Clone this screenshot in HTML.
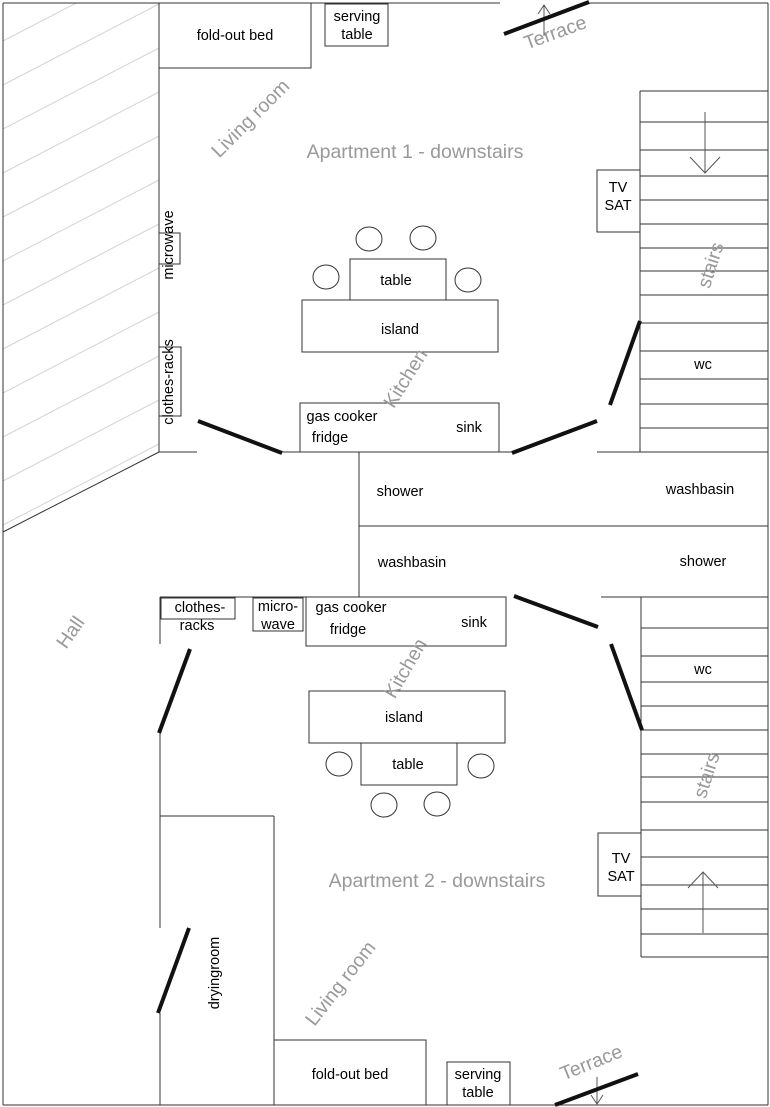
<!DOCTYPE html>
<html><head><meta charset="utf-8"><style>
html,body{margin:0;padding:0;background:#fff}
svg{display:block}
text{font-family:"Liberation Sans",sans-serif}
.b{font-size:14.5px;fill:#000;text-anchor:middle}
.g{font-size:19.5px;fill:#999;text-anchor:middle}
</style></head><body>
<svg width="770" height="1107" viewBox="0 0 770 1107" xmlns="http://www.w3.org/2000/svg">
<defs><clipPath id="hc"><polygon points="3,3 159,3 159,452 3,532"/></clipPath></defs>
<g clip-path="url(#hc)" stroke="#d4d4d4" stroke-width="1">
<line x1="3" y1="-3" x2="159" y2="-84"/>
<line x1="3" y1="41" x2="159" y2="-40"/>
<line x1="3" y1="85" x2="159" y2="4"/>
<line x1="3" y1="129" x2="159" y2="48"/>
<line x1="3" y1="173" x2="159" y2="92"/>
<line x1="3" y1="217" x2="159" y2="136"/>
<line x1="3" y1="261" x2="159" y2="180"/>
<line x1="3" y1="305" x2="159" y2="224"/>
<line x1="3" y1="349" x2="159" y2="268"/>
<line x1="3" y1="393" x2="159" y2="312"/>
<line x1="3" y1="437" x2="159" y2="356"/>
<line x1="3" y1="481" x2="159" y2="400"/>
<line x1="3" y1="525" x2="159" y2="444"/>
</g>
<g stroke="#333" stroke-width="1" fill="none">
<line x1="3" y1="3" x2="3" y2="1105"/>
<line x1="3" y1="3" x2="500" y2="3"/>
<line x1="589" y1="3" x2="768" y2="3"/>
<line x1="768" y1="3" x2="768" y2="1105"/>
<line x1="3" y1="1105" x2="768" y2="1105"/>
<line x1="3" y1="532" x2="159" y2="452"/>
<line x1="159" y1="3" x2="159" y2="452"/>
<line x1="159" y1="452" x2="197" y2="452"/>
<line x1="282" y1="452" x2="512" y2="452"/>
<line x1="597" y1="452" x2="768" y2="452"/>
<rect x="159" y="3" width="152" height="65"/>
<rect x="325" y="4" width="63" height="42"/>
<rect x="159" y="233" width="21" height="31"/>
<rect x="159" y="347" width="22" height="69"/>
<rect x="300" y="403" width="199" height="49"/>
<rect x="350" y="259" width="96" height="41"/>
<rect x="302" y="300" width="196" height="52"/>
<ellipse cx="369" cy="239" rx="13" ry="12"/>
<ellipse cx="423" cy="238" rx="13" ry="12"/>
<ellipse cx="326" cy="277" rx="13" ry="12"/>
<ellipse cx="468" cy="280" rx="13" ry="12"/>
<rect x="597" y="170" width="43" height="62"/>
<line x1="640" y1="91" x2="640" y2="452"/>
<line x1="640" y1="91" x2="768" y2="91"/>
<line x1="640" y1="122" x2="768" y2="122"/>
<line x1="640" y1="150" x2="768" y2="150"/>
<line x1="640" y1="176" x2="768" y2="176"/>
<line x1="640" y1="200" x2="768" y2="200"/>
<line x1="640" y1="224" x2="768" y2="224"/>
<line x1="640" y1="248" x2="768" y2="248"/>
<line x1="640" y1="271" x2="768" y2="271"/>
<line x1="640" y1="295" x2="768" y2="295"/>
<line x1="640" y1="323" x2="768" y2="323"/>
<line x1="640" y1="351" x2="768" y2="351"/>
<line x1="640" y1="379" x2="768" y2="379"/>
<line x1="640" y1="404" x2="768" y2="404"/>
<line x1="640" y1="428" x2="768" y2="428"/>
<line x1="359" y1="452" x2="359" y2="597"/>
<line x1="359" y1="526" x2="768" y2="526"/>
<line x1="160" y1="597" x2="506" y2="597"/>
<line x1="601" y1="597" x2="768" y2="597"/>
<rect x="306" y="597" width="200" height="49"/>
<rect x="161" y="598" width="74" height="21"/>
<rect x="253" y="598" width="50" height="33"/>
<line x1="160" y1="597" x2="160" y2="644"/>
<line x1="160" y1="733" x2="160" y2="928"/>
<line x1="160" y1="1013" x2="160" y2="1105"/>
<line x1="160" y1="816" x2="274" y2="816"/>
<line x1="274" y1="816" x2="274" y2="1105"/>
<rect x="274" y="1040" width="152" height="65"/>
<rect x="447" y="1062" width="63" height="43"/>
<rect x="309" y="691" width="196" height="52"/>
<rect x="361" y="743" width="96" height="42"/>
<ellipse cx="339" cy="764" rx="13" ry="12"/>
<ellipse cx="481" cy="766" rx="13" ry="12"/>
<ellipse cx="384" cy="805" rx="13" ry="12"/>
<ellipse cx="437" cy="804" rx="13" ry="12"/>
<rect x="598" y="833" width="43" height="63"/>
<line x1="641" y1="597" x2="641" y2="957"/>
<line x1="641" y1="628" x2="768" y2="628"/>
<line x1="641" y1="656" x2="768" y2="656"/>
<line x1="641" y1="682" x2="768" y2="682"/>
<line x1="641" y1="706" x2="768" y2="706"/>
<line x1="641" y1="730" x2="768" y2="730"/>
<line x1="641" y1="754" x2="768" y2="754"/>
<line x1="641" y1="777" x2="768" y2="777"/>
<line x1="641" y1="802" x2="768" y2="802"/>
<line x1="641" y1="830" x2="768" y2="830"/>
<line x1="641" y1="857" x2="768" y2="857"/>
<line x1="641" y1="885" x2="768" y2="885"/>
<line x1="641" y1="909" x2="768" y2="909"/>
<line x1="641" y1="934" x2="768" y2="934"/>
<line x1="641" y1="957" x2="768" y2="957"/>
</g>
<g stroke="#555" stroke-width="1" fill="none">
<line x1="544" y1="36" x2="544" y2="5"/><polyline points="538,14 544,5 550,14"/>
<line x1="705" y1="112" x2="705" y2="173"/><polyline points="690,157 705,173 720,157"/>
<line x1="703" y1="933" x2="703" y2="872"/><polyline points="688,888 703,872 718,888"/>
<line x1="597" y1="1077" x2="597" y2="1104"/><polyline points="591,1095 597,1104 603,1095"/>
</g>
<g stroke="#111" stroke-width="4" stroke-linecap="butt">
<line x1="504" y1="34" x2="589" y2="2"/>
<line x1="198" y1="421" x2="282" y2="453"/>
<line x1="512" y1="453" x2="597" y2="421"/>
<line x1="640" y1="321" x2="610" y2="405"/>
<line x1="514" y1="596" x2="598" y2="627"/>
<line x1="611" y1="644" x2="642" y2="730"/>
<line x1="190" y1="649" x2="159" y2="733"/>
<line x1="189" y1="928" x2="158" y2="1013"/>
<line x1="555" y1="1105" x2="638" y2="1074"/>
</g>
<text class="b" x="235" y="40">fold-out bed</text>
<text class="b" x="357" y="21">serving</text>
<text class="b" x="357" y="39">table</text>
<text class="b" x="396" y="285">table</text>
<text class="b" x="400" y="334">island</text>
<text class="b" x="618" y="192">TV</text>
<text class="b" x="618" y="210">SAT</text>
<text class="b" x="703" y="369">wc</text>
<text class="b" x="342" y="421">gas cooker</text>
<text class="b" x="330" y="442">fridge</text>
<text class="b" x="469" y="432">sink</text>
<text class="b" x="168" y="250" transform="rotate(-90 168 245)">microwave</text>
<text class="b" x="168" y="387" transform="rotate(-90 168 382)">clothes-racks</text>
<text class="b" x="400" y="496">shower</text>
<text class="b" x="700" y="494">washbasin</text>
<text class="b" x="412" y="567">washbasin</text>
<text class="b" x="703" y="566">shower</text>
<text class="b" x="200" y="612">clothes-</text>
<text class="b" x="197" y="630">racks</text>
<text class="b" x="278" y="611">micro-</text>
<text class="b" x="278" y="629">wave</text>
<text class="b" x="351" y="612">gas cooker</text>
<text class="b" x="348" y="634">fridge</text>
<text class="b" x="474" y="627">sink</text>
<text class="b" x="404" y="722">island</text>
<text class="b" x="408" y="769">table</text>
<text class="b" x="703" y="674">wc</text>
<text class="b" x="621" y="863">TV</text>
<text class="b" x="621" y="881">SAT</text>
<text class="b" x="350" y="1079">fold-out bed</text>
<text class="b" x="478" y="1079">serving</text>
<text class="b" x="478" y="1097">table</text>
<text class="b" x="214" y="978" transform="rotate(-90 214 973)">dryingroom</text>
<text class="g" x="415" y="158">Apartment 1 - downstairs</text>
<text class="g" x="437" y="887">Apartment 2 - downstairs</text>
<text class="g" x="250" y="125" transform="rotate(-45 250 118)">Living room</text>
<text class="g" x="405" y="385" transform="rotate(-58 405 378)">Kitchen</text>
<text class="g" x="405" y="675" transform="rotate(-60 405 668)">Kitchen</text>
<text class="g" x="710" y="272" transform="rotate(-72 710 265)">stairs</text>
<text class="g" x="706" y="782" transform="rotate(-72 706 775)">stairs</text>
<text class="g" x="555" y="39" transform="rotate(-20 555 32)">Terrace</text>
<text class="g" x="591" y="1069" transform="rotate(-22 591 1062)">Terrace</text>
<text class="g" x="70" y="639" transform="rotate(-55 70 632)">Hall</text>
<text class="g" x="340" y="990" transform="rotate(-52 340 983)">Living room</text>
</svg>
</body></html>
